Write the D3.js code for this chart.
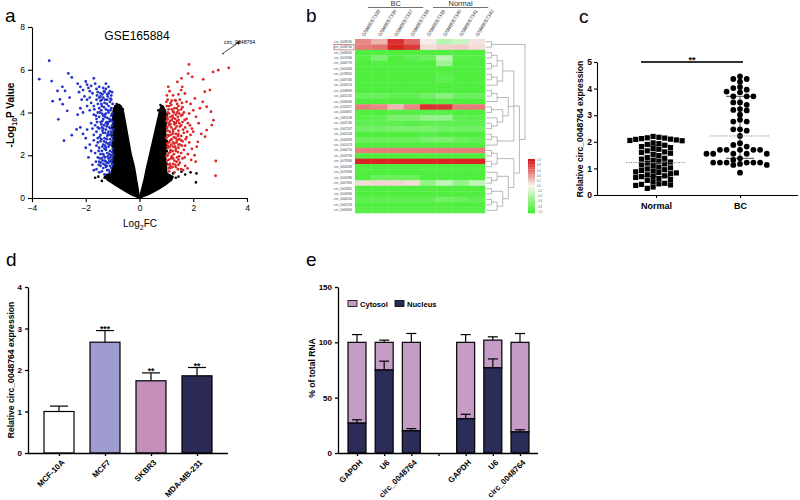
<!DOCTYPE html>
<html><head><meta charset="utf-8">
<script src="https://cdn.jsdelivr.net/npm/d3@7"></script>
<style>body{margin:0;background:#fff} svg{display:block;font-family:"Liberation Sans",Arial,sans-serif}</style>
</head><body><svg id="chart" width="800" height="500"></svg>
<script>
// ---------------- DATA ----------------
// Panel a: volcano plot (log2FC, -log10 P)
const volcanoTitle = "GSE165884";
const blueDown = [[-2.3,5.35],[-2.2,5.2],[-2.1,5.05],[-2.25,4.95],[-2.0,5.45],[-1.95,5.3],[-1.9,5.15],[-1.85,5.0],[-1.8,5.25],[-1.7,5.6],[-1.75,4.9],[-2.05,4.75],[-2.15,4.6],[-1.95,4.6],[-1.65,5.35],[-1.6,5.1],[-1.55,4.95],[-1.5,5.2],[-1.45,4.9],[-1.35,5.15],[-1.3,4.95],[-1.25,5.1],[-1.2,4.85],[-1.1,5.0],[-1.05,4.8],
[-2.2,4.2],[-2.1,4.0],[-2.3,3.9],[-1.95,4.3],[-1.85,4.1],[-1.8,4.45],[-1.7,4.3],[-1.6,4.6],[-1.55,4.4],[-1.5,4.2],[-1.45,4.55],[-1.4,4.3],[-1.35,4.7],[-1.3,4.45],[-1.25,4.15],[-1.2,4.6],[-1.15,4.3],[-1.1,4.5],[-1.05,4.2],[-1.0,4.4],
[-1.7,3.9],[-1.6,3.7],[-1.55,4.0],[-1.5,3.8],[-1.45,3.55],[-1.4,3.95],[-1.35,3.7],[-1.3,3.9],[-1.25,3.5],[-1.2,3.75],[-1.15,4.0],[-1.1,3.6],[-1.05,3.85],[-1.0,3.55],[-1.12,3.3],
[-1.65,3.4],[-1.6,3.1],[-1.5,3.25],[-1.45,2.95],[-1.4,3.3],[-1.35,3.05],[-1.3,2.8],[-1.25,3.2],[-1.2,2.9],[-1.15,3.1],[-1.1,2.75],[-1.05,3.0],[-1.0,2.7],[-0.98,3.2],
[-1.55,2.6],[-1.5,2.35],[-1.45,2.65],[-1.4,2.2],[-1.35,2.5],[-1.3,2.3],[-1.25,2.6],[-1.2,2.1],[-1.15,2.4],[-1.1,2.2],[-1.05,2.5],[-1.0,2.3],[-0.98,2.0],
[-1.55,1.9],[-1.5,1.7],[-1.45,1.5],[-1.4,1.85],[-1.35,1.6],[-1.3,1.75],[-1.25,1.45],[-1.2,1.65],[-1.15,1.85],[-1.1,1.5],[-1.05,1.7],[-1.0,1.55],[-1.6,1.35],[-1.4,1.25],[-1.3,1.1],[-1.2,1.3],[-1.1,1.2],
[-2.2,3.3],[-2.1,3.0],[-2.0,2.8],[-1.95,3.2],[-1.85,2.5],[-1.8,2.2],[-1.9,1.9],[-1.75,1.55],[-1.7,1.3],[-2.0,2.35],[-1.8,3.5],[-1.7,2.7],
[-1.02,4.95],[-1.08,4.65],[-1.18,4.75],[-1.28,4.6],[-1.38,4.85],[-1.42,4.4],[-1.22,4.4],[-1.08,4.1],[-1.32,4.25],[-1.18,4.1],[-1.42,4.1],[-1.02,3.95],[-1.28,3.8],[-1.12,3.7],[-1.38,3.6],[-1.22,3.55],[-1.02,3.4],[-1.32,3.4],[-1.18,3.45],[-1.42,3.45],[-1.08,3.25],[-1.28,3.05],[-1.38,3.15],[-1.12,2.95],[-1.22,2.75],[-1.02,2.85],[-1.48,2.85],[-1.32,2.65],[-1.08,2.6],[-1.38,2.4],[-1.18,2.55],[-1.28,2.45],[-1.02,2.15],[-1.12,2.05],[-1.25,2.25],[-1.35,2.05],[-1.45,2.05],[-1.18,1.95],[-1.08,1.9],[-1.28,1.9],[-1.02,1.8],[-1.38,1.75],[-1.48,1.85],[-1.15,1.65],[-1.25,1.7],[-1.05,1.4],[-1.35,1.4],[-1.22,1.5],[-1.52,1.55],[-1.62,1.7],[-1.65,2.1],[-1.6,2.45],[-1.7,2.95],[-1.75,3.25],[-1.62,3.85],[-1.68,4.15],[-1.85,4.7],[-1.5,4.7],[-1.25,5.35],[-1.15,5.2],
[-1.05,4.6],[-1.15,4.9],[-1.32,5.0],[-1.45,4.75],[-1.58,4.8],[-1.4,4.6],[-1.25,3.95],[-1.35,3.85],[-1.48,4.0],[-1.58,3.55],[-1.15,3.55],[-1.05,3.65],[-1.22,3.35],[-1.35,3.25],[-1.55,3.3],[-1.05,3.1],[-1.18,3.0],[-1.42,2.75],[-1.55,2.8],[-1.12,2.5],[-1.25,2.35],[-1.52,2.2],[-1.05,2.0],[-1.32,1.95],[-1.45,1.65],[-1.12,1.75],[-1.02,1.6],[-1.28,1.55],[-1.15,1.3],[-1.5,1.2],
[-3.36,6.42],[-3.73,5.56],[-3.27,5.47],[-3.05,5.01],[-2.87,5.2],[-2.77,5.01],[-3.23,4.53],[-2.96,4.61],[-2.86,4.39],[-2.69,4.08],[-3.02,3.68],[-2.81,2.68],[-2.52,2.94],[-2.34,3.21],[-2.65,5.83],[-2.52,5.64],[-2.6,4.7]];
const redUp = [[1.0,4.5],[1.1,4.3],[1.2,4.55],[1.3,4.2],[1.4,4.4],[1.5,4.6],[1.6,4.25],[1.05,4.0],[1.15,3.8],[1.25,4.05],[1.35,3.9],[1.45,4.1],[1.55,3.85],[1.65,4.0],[1.75,3.7],[1.85,3.95],[1.0,3.6],[1.1,3.4],[1.2,3.65],[1.3,3.45],[1.4,3.6],[1.5,3.35],[1.6,3.55],[1.7,3.3],[1.8,3.5],[1.95,3.25],[1.05,3.15],[1.15,2.95],[1.25,3.2],[1.35,3.0],[1.45,3.15],[1.55,2.9],[1.65,3.05],[1.75,2.85],[1.9,2.95],[2.0,3.1],[1.0,2.8],[1.1,2.6],[1.2,2.75],[1.3,2.55],[1.4,2.7],[1.5,2.5],[1.6,2.65],[1.7,2.45],[1.85,2.6],[1.05,2.35],[1.15,2.15],[1.25,2.4],[1.35,2.2],[1.45,2.35],[1.55,2.1],[1.65,2.25],[1.8,2.05],[1.0,1.95],[1.1,1.8],[1.2,1.95],[1.3,1.75],[1.4,1.9],[1.5,1.65],[1.6,1.85],[1.05,1.55],[1.15,1.4],[1.25,1.6],[1.35,1.45],[1.45,1.55],[1.55,1.35],[1.7,1.5],[1.1,1.25],[1.3,1.2],
[1.02,4.8],[1.12,5.0],[1.25,4.8],[1.45,4.85],[1.55,5.05],[1.75,4.5],[1.9,4.4],[2.0,4.1],[2.1,3.8],[2.2,3.5],[2.25,4.2],[2.3,3.0],[1.95,2.3],[2.05,2.0],
[1.02,4.3],[1.08,4.15],[1.18,4.35],[1.28,4.0],[1.38,4.2],[1.48,3.95],[1.03,3.8],[1.13,3.6],[1.23,3.85],[1.33,3.7],[1.43,3.8],[1.08,3.5],[1.18,3.3],[1.28,3.55],[1.38,3.35],[1.48,3.5],[1.03,3.3],[1.13,3.1],[1.23,3.0],[1.33,3.25],[1.43,2.9],[1.08,2.9],[1.18,2.5],[1.28,2.85],[1.38,2.6],[1.48,2.75],[1.03,2.55],[1.13,2.4],[1.23,2.2],[1.33,2.4],[1.43,2.15],[1.08,2.1],[1.18,1.85],[1.28,2.05],[1.38,1.7],[1.48,1.95],[1.03,1.75],[1.13,1.6],[1.23,1.45],[1.33,1.55],[1.43,1.35],[1.08,1.4],[1.58,2.45],[1.62,3.2],[1.68,1.9],[1.72,2.75],[1.78,3.1],[1.58,4.45],[1.68,3.65],[1.88,3.4],
[1.05,4.6],[1.15,4.45],[1.35,4.55],[1.45,4.3],[1.55,4.15],[1.1,3.95],[1.2,4.15],[1.4,4.0],[1.6,3.9],[1.05,3.7],[1.25,3.75],[1.45,3.65],[1.15,3.45],[1.35,3.5],[1.55,3.4],[1.05,2.95],[1.25,3.1],[1.45,3.0],[1.15,2.7],[1.35,2.8],[1.55,2.7],[1.05,2.45],[1.25,2.6],[1.45,2.5],[1.15,2.25],[1.35,2.3],[1.05,2.0],[1.25,1.85],[1.45,1.8],[1.15,1.5],
[1.84,6.25],[1.56,5.6],[1.81,5.82],[1.96,5.67],[2.37,5.55],[1.41,5.43],[1.59,5.2],[1.07,5.2],[1.32,4.58],[1.69,4.89],[2.06,4.66],[2.43,4.97],[2.62,5.05],[2.35,4.5],[2.5,4.27],[2.66,4.04],[2.75,3.64],[2.69,3.41],[2.5,3.18],[2.44,2.87],[2.17,2.63],[2.13,2.4],[2.09,1.7],[1.92,1.78],[1.79,1.39],[1.62,1.3],[2.84,1.73],[2.83,1.04],[2.74,5.9],[2.93,5.98],[3.32,6.09]];
const blackScatter = [[-1.53,1.0],[-1.2,1.09],[-1.4,0.8],[-1.3,0.95],[-1.1,0.85],[-0.95,1.15],[-1.65,0.95],[1.25,1.15],[1.56,1.23],[1.45,1.0],[1.35,0.95],[1.7,1.1],[1.9,1.2],[2.12,1.15],[2.1,0.73],[1.15,0.95],[-0.9,4.3],[-0.85,4.4],[-0.75,4.35],[0.78,4.35],[0.86,4.28],[0.7,4.1],[-0.62,4.15],[-1.02,3.9],[-1.03,2.9],[1.01,3.3],[1.02,2.2],[-1.03,3.3],[-1.02,2.45],[-1.04,1.75],[1.01,3.9],[1.03,2.65],[1.02,1.6],[-0.95,4.2],[0.95,4.1]];
const blackLeftWing = [[0,0],[-0.05,0.4],[-0.11,0.85],[-0.19,1.45],[-0.32,2.1],[-0.42,2.8],[-0.52,3.5],[-0.6,4.05],[-0.68,4.3],[-0.8,4.38],[-0.9,4.3],[-0.98,4.1],[-1.0,3.6],[-0.98,3.0],[-1.0,2.5],[-0.98,2.0],[-1.0,1.5],[-1.05,1.2],[-1.3,1.0],[-1.2,0.85],[-0.9,0.6],[-0.6,0.37],[-0.3,0.15]];
const blackRightWing = [[0,0],[0.08,0.4],[0.17,0.85],[0.27,1.45],[0.39,2.1],[0.5,2.7],[0.6,3.25],[0.7,3.8],[0.76,4.15],[0.82,4.32],[0.9,4.25],[0.97,4.0],[0.99,3.5],[0.97,3.0],[1.0,2.5],[0.97,2.0],[0.99,1.5],[1.02,1.15],[1.25,1.0],[1.2,0.85],[0.95,0.6],[0.7,0.4],[0.35,0.17]];
const highlighted = {name:"circ_0048764", fc:3.11, p:6.76};
const volcanoXTicks = [-4,-2,0,2,4];
const volcanoYTicks = [0,2,4,6,8];

// Panel b: heatmap
const sampleIds = ["GSM5057335","GSM5057336","GSM5057337","GSM5057338","GSM5057339","GSM5057340","GSM5057341","GSM5057342"];
const sampleGroups = [{name:"BC", from:0, to:3},{name:"Normal", from:4, to:7}];
const circIds = ["circ_0008160","circ_0048764","circ_0008362","circ_0001946","circ_0006719","circ_0001606","circ_0078920","circ_0067166","circ_0006213","circ_0008899","circ_0001535","circ_0009036","circ_0024517","circ_0006867","circ_0061108","circ_0002766","circ_0007207","circ_0002544","circ_0000858","circ_0001073","circ_0006756","circ_0003796","circ_0073936","circ_0004348","circ_0070994","circ_0005986","circ_0007956","circ_0002862","circ_0000996","circ_0000200","circ_0002559","circ_0000909"];
const heatValues = [
[0.5,0.3,0.9,0.65,0.05,-0.35,-0.25,0.08],
[0.55,0.6,0.95,0.85,0.12,0.18,0.2,0.12],
[-0.95,-0.95,-0.95,-0.95,-0.95,-0.95,-0.95,-0.95],
[-0.9,-0.7,-0.95,-0.85,-0.8,-0.35,-0.9,-0.92],
[-0.95,-0.92,-0.95,-0.95,-0.95,-0.5,-0.95,-0.95],
[-0.95,-0.95,-0.95,-0.95,-0.95,-0.95,-0.95,-0.95],
[-0.95,-0.95,-0.95,-0.95,-0.95,-0.9,-0.95,-0.95],
[-0.95,-0.95,-0.95,-0.95,-0.95,-0.85,-0.95,-0.95],
[-0.95,-0.95,-0.95,-0.95,-0.95,-0.95,-0.95,-0.95],
[-0.95,-0.95,-0.95,-0.95,-0.95,-0.95,-0.95,-0.95],
[-0.8,-0.8,-0.85,-0.85,-0.75,-0.6,-0.8,-0.8],
[-0.95,-0.95,-0.95,-0.95,-0.95,-0.9,-0.95,-0.95],
[0.55,0.5,0.3,0.5,0.9,0.88,0.55,0.55],
[-0.95,-0.95,-0.9,-0.9,-0.9,-0.9,-0.95,-0.95],
[-0.9,-0.85,-0.7,-0.7,-0.55,-0.55,-0.85,-0.9],
[-0.85,-0.85,-0.85,-0.9,-0.85,-0.85,-0.85,-0.85],
[-0.75,-0.75,-0.7,-0.7,-0.7,-0.75,-0.75,-0.75],
[-0.95,-0.95,-0.95,-0.95,-0.9,-0.95,-0.95,-0.95],
[-0.8,-0.8,-0.8,-0.8,-0.7,-0.7,-0.8,-0.85],
[-0.95,-0.95,-0.95,-0.95,-0.95,-0.95,-0.95,-0.95],
[0.55,0.55,0.55,0.55,0.55,0.55,0.55,0.55],
[-0.95,-0.95,-0.95,-0.95,-0.95,-0.95,-0.95,-0.95],
[0.95,0.95,0.95,0.95,0.95,0.95,0.95,0.95],
[-0.95,-0.95,-0.95,-0.95,-0.95,-0.95,-0.95,-0.95],
[-0.95,-0.95,-0.95,-0.95,-0.95,-0.95,-0.95,-0.95],
[-0.95,-0.8,-0.8,-0.8,-0.95,-0.95,-0.95,-0.95],
[0.12,0.15,0.15,0.12,-0.55,-0.3,-0.55,-0.3],
[-0.95,-0.95,-0.95,-0.95,-0.95,-0.95,-0.95,-0.95],
[-0.95,-0.95,-0.95,-0.95,-0.95,-0.95,-0.95,-0.95],
[-0.85,-0.85,-0.85,-0.85,-0.85,-0.75,-0.8,-0.85],
[-0.95,-0.95,-0.95,-0.95,-0.95,-0.95,-0.95,-0.95],
[-0.9,-0.9,-0.9,-0.9,-0.9,-0.9,-0.9,-0.9]];
const rowTree = [[0,1],[[[[[2,3],[4,5]],[[6,7],8]],[[[9,10],11],[[12,13],[14,[15,16]]]],[[17,18],19]],[[[20,21],[22,23]],[[24,[25,26]],[[27,28],[[29,30],31]]]]]];
const legendSteps = [1,0.9,0.8,0.7,0.6,0.5,0.4,0.3,0.2,0.1,0,-0.1,-0.2,-0.3,-0.4,-0.5,-0.6,-0.7,-0.8,-0.9,-1];

// Panel c: scatter
const normalVals = [2.2,2.17,2.15,2.14,2.12,2.1,2.09,2.07,2.05,2.04,1.96,1.93,1.9,1.87,1.82,1.78,1.75,1.72,1.66,1.62,1.6,1.57,1.53,1.48,1.41,1.38,1.35,1.31,1.27,1.24,1.2,1.17,1.13,1.1,1.05,1.02,0.98,0.95,0.92,0.9,0.87,0.85,0.83,0.8,0.76,0.72,0.7,0.69,0.66,0.62,0.58,0.55,0.5,0.44,0.42,0.4,0.38,0.36,0.3,0.25];
const bcVals = [4.46,4.36,4.36,4.26,4.06,4.02,3.96,3.89,3.86,3.71,3.71,3.71,3.48,3.48,3.39,3.23,3.2,3.18,3.02,2.83,2.76,2.76,2.47,2.47,2.42,2.22,1.95,1.88,1.82,1.7,1.7,1.7,1.7,1.7,1.55,1.55,1.55,1.55,1.55,1.38,1.32,1.22,1.22,1.22,1.22,1.22,1.22,1.17,1.13,1.13,0.84];
const groupsC = ["Normal","BC"];
const cYTicks = [0,1,2,3,4,5];
const sigC = "**";

// Panel d: bars
const cellLines = ["MCF-10A","MCF7","SKBR3","MDA-MB-231"];
const cellMean = [1.0,2.67,1.74,1.86];
const cellErr = [0.13,0.28,0.19,0.2];
const cellSig = ["","***","**","**"];
const cellColors = ["#ffffff","#9e9cce","#c490b8","#2c2b55"];
const dYTicks = [0,1,2,3,4];

// Panel e: stacked bars
const fracLabels = ["GAPDH","U6","circ_0048764","","GAPDH","U6","circ_0048764"];
const nucleus = [27,75,20,null,31,77,19];
const nucleusErr = [3,8,2,null,4,8,2];
const cytosol = [73,25,80,null,69,25,81];
const cytosolErr = [7,2,8,null,7,3,8];
const fracSeries = ["Cytosol","Nucleus"];
const fracColors = ["#c59cc6","#2b2c58"];
const eYTicks = [0,50,100,150];

// ---------------- DRAW ----------------
const svg = d3.select("#chart");
const FONT = "'Liberation Sans',Arial,sans-serif";
function styleAxis(g, fs, bold, sw){
  g.attr("font-family", FONT).attr("font-size", fs);
  g.selectAll("path,line").attr("stroke","#000").attr("stroke-width", sw||1.2);
  g.selectAll("text").attr("fill","#000").attr("font-weight", bold?"bold":"normal");
}
// rotation written as an explicit matrix
function rot(x, y, deg){
  const r = deg*Math.PI/180, c = Math.cos(r), s = Math.sin(r);
  return `matrix(${c.toFixed(4)},${s.toFixed(4)},${(-s).toFixed(4)},${c.toFixed(4)},${x.toFixed(2)},${y.toFixed(2)})`;
}
function panelLetter(t,x,y){ svg.append("text").attr("x",x).attr("y",y).attr("font-size",19).attr("font-family",FONT).text(t); }
function rotatedLabels(g, positions, labels, yAxis){
  labels.forEach((l,i)=>{
    if(!l) return;
    g.append("text").attr("transform",rot(positions[i]+4, yAxis+8, -45))
      .attr("text-anchor","end").attr("dy","0.35em").attr("font-size",8).attr("font-weight","bold").attr("font-family",FONT).text(l);
  });
}

// ===== Panel a =====
const xA = d3.scaleLinear([-4,4],[32,247]);
const yA = d3.scaleLinear([0,8],[198,27]);
const gA = svg.append("g");
const poly = d3.line().x(d=>xA(d[0])).y(d=>yA(d[1]));
[blackLeftWing, blackRightWing].forEach(w=> gA.append("path").attr("d", poly(w)+"Z").attr("fill","#000").attr("stroke","#000").attr("stroke-width",1.5).attr("stroke-linejoin","round"));
gA.selectAll(".bk").data(blackScatter).join("circle").attr("cx",d=>xA(d[0])).attr("cy",d=>yA(d[1])).attr("r",1.3).attr("fill","#000");
gA.selectAll(".bl").data(blueDown).join("circle").attr("cx",d=>xA(d[0])).attr("cy",d=>yA(d[1])).attr("r",1.4).attr("fill","#2433c8");
gA.selectAll(".rd").data(redUp).join("circle").attr("cx",d=>xA(d[0])).attr("cy",d=>yA(d[1])).attr("r",1.4).attr("fill","#d92828");
gA.append("circle").attr("cx",xA(highlighted.fc)).attr("cy",yA(highlighted.p)).attr("r",1.1).attr("fill","#555");
svg.append("defs").append("marker").attr("id","arr").attr("viewBox","0 0 10 10").attr("refX",9).attr("refY",5)
  .attr("markerWidth",5).attr("markerHeight",5).attr("orient","auto")
  .append("path").attr("d","M0,0L10,5L0,10Z").attr("fill","#222");
gA.append("line").attr("x1",xA(highlighted.fc)+1).attr("y1",yA(highlighted.p)-1).attr("x2",xA(highlighted.fc)+17).attr("y2",yA(highlighted.p)-12)
  .attr("stroke","#222").attr("stroke-width",0.8).attr("marker-end","url(#arr)");
gA.append("text").attr("x",xA(highlighted.fc)+1).attr("y",yA(highlighted.p)-10).attr("font-size",5.2).attr("font-family",FONT).text(highlighted.name);
gA.append("text").attr("x",137).attr("y",40).attr("text-anchor","middle").attr("font-size",12).attr("font-family",FONT).text(volcanoTitle);
const axA1 = gA.append("g").attr("transform","translate(0,198)").call(d3.axisBottom(xA).tickValues(volcanoXTicks).tickSize(4).tickSizeOuter(0).tickFormat(d3.format("d")));
styleAxis(axA1,8.5,false,1.1);
const axA2 = gA.append("g").attr("transform","translate(32,0)").call(d3.axisLeft(yA).tickValues(volcanoYTicks).tickSize(4).tickSizeOuter(0).tickFormat(d3.format("d")));
styleAxis(axA2,8.5,false,1.1);
const xlabA = gA.append("text").attr("x",140).attr("y",227).attr("text-anchor","middle").attr("font-size",10).attr("font-family",FONT);
xlabA.append("tspan").text("Log");
xlabA.append("tspan").attr("font-size",7).attr("dy",3).text("2");
xlabA.append("tspan").attr("dy",-3).text("FC");
const ylabA = gA.append("text").attr("transform","translate(14,115) rotate(-90)").attr("text-anchor","middle").attr("font-size",10).attr("font-weight","bold").attr("font-family",FONT);
ylabA.append("tspan").text("-Log");
ylabA.append("tspan").attr("font-size",7).attr("dy",3).text("10");
ylabA.append("tspan").attr("dy",-3).text("P Value");
panelLetter("a",5,22);

// ===== Panel b =====
const gB = svg.append("g");
const xB = d3.scaleBand(d3.range(sampleIds.length),[355,485]);
const yB = d3.scaleBand(d3.range(circIds.length),[39,213]);
const colB = d3.scaleLinear([-1,0,1],["#46ee36","#f6f6f2","#d81a1a"]).clamp(true);
heatValues.forEach((row,i)=>{
  gB.selectAll(null).data(row).join("rect").attr("x",(d,j)=>xB(j)).attr("y",yB(i)).attr("width",xB.bandwidth()+0.3).attr("height",yB.bandwidth()+0.3).attr("fill",d=>colB(d));
});
gB.selectAll(".rl").data(circIds).join("text").attr("x",352).attr("y",(d,i)=>yB(i)+yB.bandwidth()/2+1).attr("text-anchor","end")
  .attr("font-size",3).attr("fill","#444").attr("font-family",FONT).text(d=>d);
gB.append("rect").attr("x",334).attr("y",yB(1)).attr("width",20).attr("height",yB.bandwidth()).attr("fill","none").attr("stroke","#b04848").attr("stroke-width",0.6);
gB.selectAll(".cl").data(sampleIds).join("text").attr("transform",(d,j)=>rot(xB(j)+xB.bandwidth()/2+1, 37, -58))
  .attr("font-size",5).attr("fill","#333").attr("font-family",FONT).text(d=>d);
sampleGroups.forEach(g=>{
  const x1 = xB(g.from)+xB.bandwidth()*0.8, x2 = xB(g.to)+xB.bandwidth()*1.2;
  gB.append("line").attr("x1",x1).attr("x2",x2).attr("y1",7.5).attr("y2",7.5).attr("stroke","#333").attr("stroke-width",0.7);
  gB.append("text").attr("x",(x1+x2)/2).attr("y",6.2).attr("text-anchor","middle").attr("font-size",7.5).attr("fill","#333").attr("font-family",FONT).text(g.name);
});
function lay(node){
  if(typeof node === "number") return {y: yB(node)+yB.bandwidth()/2, h:0, kids:[]};
  const kids = node.map(lay);
  return {y:(kids[0].y+kids[kids.length-1].y)/2, h: d3.max(kids,k=>k.h)+1, kids};
}
const tree = lay(rowTree);
const xDen = d3.scaleLinear([0,tree.h],[486,525]);
const den = gB.append("g").attr("stroke","#9a9a9a").attr("stroke-width",0.7).attr("fill","none");
(function drawNode(n){
  if(!n.kids.length) return;
  den.append("line").attr("x1",xDen(n.h)).attr("x2",xDen(n.h)).attr("y1",n.kids[0].y).attr("y2",n.kids[n.kids.length-1].y);
  n.kids.forEach(k=>{ den.append("line").attr("x1",xDen(k.h)).attr("x2",xDen(n.h)).attr("y1",k.y).attr("y2",k.y); drawNode(k); });
})(tree);
const yL = d3.scaleBand(d3.range(legendSteps.length),[159,213]);
gB.selectAll(".lg").data(legendSteps).join("rect").attr("x",528).attr("y",(d,i)=>yL(i)).attr("width",7).attr("height",yL.bandwidth()+0.3).attr("fill",d=>colB(d));
gB.selectAll(".lt").data(legendSteps.filter((d,i)=>i%2===0)).join("text").attr("x",537).attr("y",(d,i)=>yL(i*2)+yL.bandwidth()/2+1).attr("font-size",2.6).attr("fill","#555").attr("font-family",FONT).text(d=>d3.format(".1f")(d));
panelLetter("b",306,22);

// ===== Panel c =====
const gC = svg.append("g");
const xC = d3.scalePoint(groupsC,[656,740]);
const yC = d3.scaleLinear([0,5],[195,62]);
function swarm(vals, diam, sp, even){
  const s = vals.slice().sort((a,b)=>b-a), placed=[];
  const cols = []; for(let k=0;k<20;k++){ if(even){ cols.push(-(k+0.5), k+0.5); } else { if(k===0) cols.push(0); else cols.push(-k,k); } }
  s.forEach(v=>{
    const py = yC(v);
    for(const c of cols){ if(!placed.some(p=>p.c===c && Math.abs(p.py-py)<diam)){ placed.push({v,c,py}); break; } }
  });
  return placed.map(p=>({v:p.v, dx:p.c*sp}));
}
[[normalVals,"Normal"],[bcVals,"BC"]].forEach(([vals,g])=>{
  const cx = xC(g), s = vals.slice().sort(d3.ascending);
  const med = d3.median(s), q1 = d3.quantile(s,0.22), q3 = d3.quantile(s,0.78);
  gC.append("line").attr("x1",cx).attr("x2",cx).attr("y1",yC(q1)).attr("y2",yC(q3)).attr("stroke","#555").attr("stroke-width",1);
  [q1,q3].forEach(q=>gC.append("line").attr("x1",cx-14).attr("x2",cx+14).attr("y1",yC(q)).attr("y2",yC(q)).attr("stroke","#555").attr("stroke-width",1));
  if(g==="Normal"){
    const pts = swarm(vals, 5.2, 5.8, true);
    gC.selectAll(null).data(pts).join("rect").attr("x",d=>cx+d.dx-2.6).attr("y",d=>yC(d.v)-2.6).attr("width",5.2).attr("height",5.2).attr("fill","#000");
  } else {
    const pts = swarm(vals, 5.0, 6.7, false);
    gC.selectAll(null).data(pts).join("circle").attr("cx",d=>cx+d.dx).attr("cy",d=>yC(d.v)).attr("r",2.9).attr("fill","#000");
  }
  gC.append("line").attr("x1",cx-30).attr("x2",cx+30).attr("y1",yC(med)).attr("y2",yC(med)).attr("stroke","#888").attr("stroke-width",1).attr("stroke-dasharray","1.2,1.2");
});
const axC1 = gC.append("g").attr("transform","translate(0,195)").call(d3.axisBottom(xC).tickSize(3).tickSizeOuter(0));
styleAxis(axC1,9,true,1.1);
axC1.select(".domain").attr("d","M597,0.5H798");
axC1.selectAll("text").attr("y",8);
const axC2 = gC.append("g").attr("transform","translate(597,0)").call(d3.axisLeft(yC).tickValues(cYTicks).tickSize(3).tickPadding(2).tickSizeOuter(0).tickFormat(d3.format("d")));
styleAxis(axC2,8.5,true,1.1);
gC.append("line").attr("x1",641).attr("x2",743).attr("y1",yC(5)).attr("y2",yC(5)).attr("stroke","#333").attr("stroke-width",2);
gC.append("text").attr("x",692).attr("y",yC(5)+1).attr("text-anchor","middle").attr("font-size",9).attr("font-weight","bold").attr("font-family",FONT).text(sigC);
gC.append("text").attr("transform","translate(583,129) rotate(-90)").attr("text-anchor","middle").attr("font-size",8.6).attr("font-weight","bold").attr("font-family",FONT).text("Relative circ_0048764 expression");
panelLetter("c",579,23);

// ===== Panel d =====
const gD = svg.append("g");
const xD = d3.scalePoint(cellLines,[59,197]);
const yD = d3.scaleLinear([0,4],[453,287]);
const bwD = 30;
cellLines.forEach((c,i)=>{
  const cx = xD(c), top = yD(cellMean[i]), et = yD(cellMean[i]+cellErr[i]);
  gD.append("line").attr("x1",cx).attr("x2",cx).attr("y1",top).attr("y2",et).attr("stroke","#000").attr("stroke-width",1.2);
  gD.append("line").attr("x1",cx-9).attr("x2",cx+9).attr("y1",et).attr("y2",et).attr("stroke","#000").attr("stroke-width",1.2);
  gD.append("rect").attr("x",cx-bwD/2).attr("y",top).attr("width",bwD).attr("height",yD(0)-top).attr("fill",cellColors[i]).attr("stroke","#000").attr("stroke-width",1.2);
  if(cellSig[i]) gD.append("text").attr("x",cx).attr("y",et+1.5).attr("text-anchor","middle").attr("font-size",8.5).attr("font-weight","bold").attr("font-family",FONT).text(cellSig[i]);
});
const axD1 = gD.append("g").attr("transform","translate(0,453)").call(d3.axisBottom(xD).tickSize(3).tickSizeOuter(0).tickFormat(""));
styleAxis(axD1,8,true,1.3);
axD1.select(".domain").attr("d","M28,0.5H228");
rotatedLabels(gD, cellLines.map(c=>xD(c)), cellLines, 453);
const axD2 = gD.append("g").attr("transform","translate(28,0)").call(d3.axisLeft(yD).tickValues(dYTicks).tickSize(3).tickSizeOuter(0).tickFormat(d3.format("d")));
styleAxis(axD2,8,true,1.3);
gD.append("text").attr("transform","translate(14,370) rotate(-90)").attr("text-anchor","middle").attr("font-size",8.6).attr("font-weight","bold").attr("font-family",FONT).text("Relative circ_0048764 expression");
panelLetter("d",6,266);

// ===== Panel e =====
const gE = svg.append("g");
const xE = d3.scalePoint(d3.range(fracLabels.length),[357,520]);
const yE = d3.scaleLinear([0,150],[453,287]);
const bwE = 18;
fracLabels.forEach((lab,i)=>{
  if(nucleus[i]==null) return;
  const cx = xE(i), nTop = yE(nucleus[i]), tTop = yE(nucleus[i]+cytosol[i]);
  const ce = yE(nucleus[i]+cytosol[i]+cytosolErr[i]), ne = yE(nucleus[i]+nucleusErr[i]);
  gE.append("line").attr("x1",cx).attr("x2",cx).attr("y1",tTop).attr("y2",ce).attr("stroke","#000").attr("stroke-width",1.2);
  gE.append("line").attr("x1",cx-5).attr("x2",cx+5).attr("y1",ce).attr("y2",ce).attr("stroke","#000").attr("stroke-width",1.2);
  gE.append("rect").attr("x",cx-bwE/2).attr("y",tTop).attr("width",bwE).attr("height",nTop-tTop).attr("fill",fracColors[0]).attr("stroke","#000").attr("stroke-width",1.2);
  gE.append("rect").attr("x",cx-bwE/2).attr("y",nTop).attr("width",bwE).attr("height",yE(0)-nTop).attr("fill",fracColors[1]).attr("stroke","#000").attr("stroke-width",1.2);
  gE.append("line").attr("x1",cx).attr("x2",cx).attr("y1",nTop).attr("y2",ne).attr("stroke","#000").attr("stroke-width",1.2);
  gE.append("line").attr("x1",cx-5).attr("x2",cx+5).attr("y1",ne).attr("y2",ne).attr("stroke","#000").attr("stroke-width",1.2);
});
const axE1 = gE.append("g").attr("transform","translate(0,453)").call(d3.axisBottom(xE).tickSize(3).tickSizeOuter(0).tickFormat(""));
styleAxis(axE1,8,true,1.3);
axE1.select(".domain").attr("d","M338,0.5H538");
rotatedLabels(gE, fracLabels.map((l,i)=>xE(i)), fracLabels, 453);
const axE2 = gE.append("g").attr("transform","translate(338,0)").call(d3.axisLeft(yE).tickValues(eYTicks).tickSize(3).tickSizeOuter(0));
styleAxis(axE2,8,true,1.3);
gE.append("text").attr("transform","translate(315,368) rotate(-90)").attr("text-anchor","middle").attr("font-size",8.6).attr("font-weight","bold").attr("font-family",FONT).text("% of total RNA");
const legX = [348,395];
fracSeries.forEach((s,i)=>{
  gE.append("rect").attr("x",legX[i]).attr("y",300.5).attr("width",9).attr("height",6).attr("fill",fracColors[i]).attr("stroke","#000").attr("stroke-width",0.8);
  gE.append("text").attr("x",legX[i]+12).attr("y",306.5).attr("font-size",7.6).attr("font-weight","bold").attr("font-family",FONT).text(s);
});
panelLetter("e",306,266);
</script></body></html>
